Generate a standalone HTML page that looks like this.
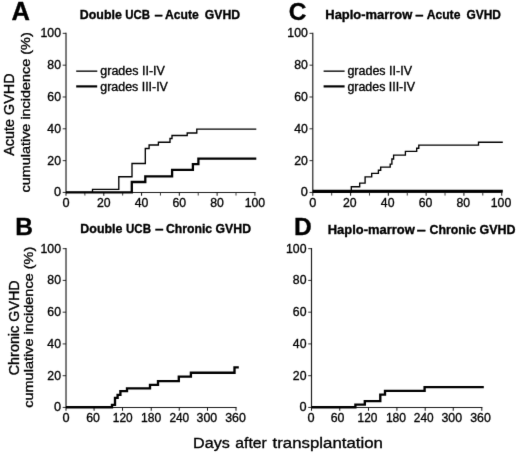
<!DOCTYPE html>
<html><head><meta charset="utf-8"><title>GVHD cumulative incidence</title>
<style>html,body{margin:0;padding:0;background:#fff;}svg{display:block;}text{font-family:"Liberation Sans",sans-serif;fill:#000;stroke:#000;stroke-width:0.34px;}</style>
</head><body>
<svg width="520" height="456" viewBox="0 0 520 456">
<rect width="520" height="456" fill="#fff"/>
<defs><filter id="bl" x="0" y="0" width="520" height="456" filterUnits="userSpaceOnUse"><feConvolveMatrix order="3" kernelMatrix="0.0056 0.0638 0.0056 0.0638 0.7225 0.0638 0.0056 0.0638 0.0056" divisor="1" edgeMode="none" preserveAlpha="false"/></filter></defs>
<g filter="url(#bl)">
<text x="11.6" y="19.5" font-size="25.5" text-anchor="start" font-weight="bold" >A</text>
<text x="15.2" y="235.4" font-size="24.5" text-anchor="start" font-weight="bold" >B</text>
<text x="288.8" y="20.0" font-size="24.5" text-anchor="start" font-weight="bold" >C</text>
<text x="294.0" y="235.2" font-size="24.5" text-anchor="start" font-weight="bold" >D</text>
<text x="79.8" y="18.6" font-size="12.5" text-anchor="start" font-weight="bold" textLength="42.0" lengthAdjust="spacingAndGlyphs" stroke="none">Double</text>
<text x="125.3" y="18.6" font-size="12.5" text-anchor="start" font-weight="bold" textLength="24.8" lengthAdjust="spacingAndGlyphs" stroke="none">UCB</text>
<text x="154.5" y="18.6" font-size="12.5" text-anchor="start" font-weight="bold" textLength="8.2" lengthAdjust="spacingAndGlyphs" stroke="none">–</text>
<text x="165.0" y="18.6" font-size="12.5" text-anchor="start" font-weight="bold" textLength="33.7" lengthAdjust="spacingAndGlyphs" stroke="none">Acute</text>
<text x="204.8" y="18.6" font-size="12.5" text-anchor="start" font-weight="bold" textLength="35.4" lengthAdjust="spacingAndGlyphs" stroke="none">GVHD</text>
<text x="80.3" y="233.2" font-size="12.5" text-anchor="start" font-weight="bold" textLength="42.2" lengthAdjust="spacingAndGlyphs" stroke="none">Double</text>
<text x="126.0" y="233.2" font-size="12.5" text-anchor="start" font-weight="bold" textLength="25.0" lengthAdjust="spacingAndGlyphs" stroke="none">UCB</text>
<text x="155.1" y="233.2" font-size="12.5" text-anchor="start" font-weight="bold" textLength="8.5" lengthAdjust="spacingAndGlyphs" stroke="none">–</text>
<text x="166.0" y="233.2" font-size="12.5" text-anchor="start" font-weight="bold" textLength="46.1" lengthAdjust="spacingAndGlyphs" stroke="none">Chronic</text>
<text x="215.6" y="233.2" font-size="12.5" text-anchor="start" font-weight="bold" textLength="35.4" lengthAdjust="spacingAndGlyphs" stroke="none">GVHD</text>
<text x="325.3" y="19.1" font-size="12.5" text-anchor="start" font-weight="bold" textLength="87.0" lengthAdjust="spacingAndGlyphs" stroke="none">Haplo-marrow</text>
<text x="415.2" y="19.1" font-size="12.5" text-anchor="start" font-weight="bold" textLength="8.2" lengthAdjust="spacingAndGlyphs" stroke="none">–</text>
<text x="426.7" y="19.1" font-size="12.5" text-anchor="start" font-weight="bold" textLength="33.7" lengthAdjust="spacingAndGlyphs" stroke="none">Acute</text>
<text x="466.5" y="19.1" font-size="12.5" text-anchor="start" font-weight="bold" textLength="34.5" lengthAdjust="spacingAndGlyphs" stroke="none">GVHD</text>
<text x="327.75" y="234.2" font-size="12.5" text-anchor="start" font-weight="bold" textLength="86.95" lengthAdjust="spacingAndGlyphs" stroke="none">Haplo-marrow</text>
<text x="416.8" y="234.2" font-size="12.5" text-anchor="start" font-weight="bold" textLength="9.0" lengthAdjust="spacingAndGlyphs" stroke="none">–</text>
<text x="429.6" y="234.2" font-size="12.5" text-anchor="start" font-weight="bold" textLength="46.6" lengthAdjust="spacingAndGlyphs" stroke="none">Chronic</text>
<text x="479.6" y="234.2" font-size="12.5" text-anchor="start" font-weight="bold" textLength="36.0" lengthAdjust="spacingAndGlyphs" stroke="none">GVHD</text>
<path d="M66 32.75 V193.04999999999998" stroke="#1a1a1a" stroke-width="1.15" fill="none"/>
<path d="M65.4 192.45 H255.5" stroke="#1a1a1a" stroke-width="1.15" fill="none"/>
<path d="M62.7 192.45 H66" stroke="#1a1a1a" stroke-width="0.9" fill="none"/>
<text x="61.0" y="196.45" font-size="12.7" text-anchor="end" >0</text>
<path d="M62.7 160.63 H66" stroke="#1a1a1a" stroke-width="0.9" fill="none"/>
<text x="61.0" y="164.63" font-size="12.7" text-anchor="end" textLength="13.63" lengthAdjust="spacingAndGlyphs" >20</text>
<path d="M62.7 128.81 H66" stroke="#1a1a1a" stroke-width="0.9" fill="none"/>
<text x="61.0" y="132.81" font-size="12.7" text-anchor="end" textLength="13.63" lengthAdjust="spacingAndGlyphs" >40</text>
<path d="M62.7 96.99 H66" stroke="#1a1a1a" stroke-width="0.9" fill="none"/>
<text x="61.0" y="100.99" font-size="12.7" text-anchor="end" textLength="13.63" lengthAdjust="spacingAndGlyphs" >60</text>
<path d="M62.7 65.17 H66" stroke="#1a1a1a" stroke-width="0.9" fill="none"/>
<text x="61.0" y="69.17" font-size="12.7" text-anchor="end" textLength="13.63" lengthAdjust="spacingAndGlyphs" >80</text>
<path d="M62.7 33.35 H66" stroke="#1a1a1a" stroke-width="0.9" fill="none"/>
<text x="61.0" y="37.35" font-size="12.7" text-anchor="end" textLength="20.44" lengthAdjust="spacingAndGlyphs" >100</text>
<path d="M66.00 192.45 V195.75" stroke="#1a1a1a" stroke-width="1.05" fill="none"/>
<path d="M103.78 192.45 V195.75" stroke="#1a1a1a" stroke-width="1.05" fill="none"/>
<path d="M141.56 192.45 V195.75" stroke="#1a1a1a" stroke-width="1.05" fill="none"/>
<path d="M179.34 192.45 V195.75" stroke="#1a1a1a" stroke-width="1.05" fill="none"/>
<path d="M217.12 192.45 V195.75" stroke="#1a1a1a" stroke-width="1.05" fill="none"/>
<path d="M254.90 192.45 V195.75" stroke="#1a1a1a" stroke-width="1.05" fill="none"/>
<path d="M84.89 192.45 V195.54999999999998" stroke="#333" stroke-width="0.95" fill="none"/>
<path d="M122.67 192.45 V195.54999999999998" stroke="#333" stroke-width="0.95" fill="none"/>
<path d="M160.45 192.45 V195.54999999999998" stroke="#333" stroke-width="0.95" fill="none"/>
<path d="M198.23 192.45 V195.54999999999998" stroke="#333" stroke-width="0.95" fill="none"/>
<path d="M236.01 192.45 V195.54999999999998" stroke="#333" stroke-width="0.95" fill="none"/>
<text x="66.0" y="207.15" font-size="12.7" text-anchor="middle" >0</text>
<text x="103.78" y="207.15" font-size="12.7" text-anchor="middle" textLength="13.63" lengthAdjust="spacingAndGlyphs" >20</text>
<text x="141.56" y="207.15" font-size="12.7" text-anchor="middle" textLength="13.63" lengthAdjust="spacingAndGlyphs" >40</text>
<text x="179.34" y="207.15" font-size="12.7" text-anchor="middle" textLength="13.63" lengthAdjust="spacingAndGlyphs" >60</text>
<text x="217.12" y="207.15" font-size="12.7" text-anchor="middle" textLength="13.63" lengthAdjust="spacingAndGlyphs" >80</text>
<text x="254.9" y="207.15" font-size="12.7" text-anchor="middle" textLength="20.44" lengthAdjust="spacingAndGlyphs" >100</text>
<path d="M66 192.3 H92.5 V189.3 H118.8 V176.7 H132 V163.5 H145.3 V148.5 H149.1 V145.0 H158.4 V142.2 H170 V138.5 H172 V135.5 H187.2 V133.0 H196.8 V129.1 H256.3" fill="none" stroke="#000" stroke-width="1.35" stroke-linejoin="miter"/>
<path d="M66 192.4 H131.8 V182.0 H145.3 V176.3 H172.1 V169.8 H192.9 V164.1 H198.4 V158.7 H256.3" fill="none" stroke="#000" stroke-width="2.3" stroke-linejoin="miter"/>
<path d="M76.2 71.15 H97.3" stroke="#000" stroke-width="1.35"/>
<path d="M76.2 86.4 H97.2" stroke="#000" stroke-width="2.2"/>
<text x="100.3" y="75.1" font-size="12" text-anchor="start" textLength="64.6" lengthAdjust="spacingAndGlyphs" >grades II-IV</text>
<text x="100.3" y="90.6" font-size="12" text-anchor="start" textLength="67.6" lengthAdjust="spacingAndGlyphs" >grades III-IV</text>
<path d="M312.8 32.75 V193.04999999999998" stroke="#1a1a1a" stroke-width="1.15" fill="none"/>
<path d="M312.2 192.45 H502.5" stroke="#1a1a1a" stroke-width="1.15" fill="none"/>
<path d="M309.5 192.45 H312.8" stroke="#1a1a1a" stroke-width="0.9" fill="none"/>
<text x="307.8" y="196.45" font-size="12.7" text-anchor="end" >0</text>
<path d="M309.5 160.63 H312.8" stroke="#1a1a1a" stroke-width="0.9" fill="none"/>
<text x="307.8" y="164.63" font-size="12.7" text-anchor="end" textLength="13.63" lengthAdjust="spacingAndGlyphs" >20</text>
<path d="M309.5 128.81 H312.8" stroke="#1a1a1a" stroke-width="0.9" fill="none"/>
<text x="307.8" y="132.81" font-size="12.7" text-anchor="end" textLength="13.63" lengthAdjust="spacingAndGlyphs" >40</text>
<path d="M309.5 96.99 H312.8" stroke="#1a1a1a" stroke-width="0.9" fill="none"/>
<text x="307.8" y="100.99" font-size="12.7" text-anchor="end" textLength="13.63" lengthAdjust="spacingAndGlyphs" >60</text>
<path d="M309.5 65.17 H312.8" stroke="#1a1a1a" stroke-width="0.9" fill="none"/>
<text x="307.8" y="69.17" font-size="12.7" text-anchor="end" textLength="13.63" lengthAdjust="spacingAndGlyphs" >80</text>
<path d="M309.5 33.35 H312.8" stroke="#1a1a1a" stroke-width="0.9" fill="none"/>
<text x="307.8" y="37.35" font-size="12.7" text-anchor="end" textLength="20.44" lengthAdjust="spacingAndGlyphs" >100</text>
<path d="M312.80 192.45 V195.75" stroke="#1a1a1a" stroke-width="1.05" fill="none"/>
<path d="M350.58 192.45 V195.75" stroke="#1a1a1a" stroke-width="1.05" fill="none"/>
<path d="M388.36 192.45 V195.75" stroke="#1a1a1a" stroke-width="1.05" fill="none"/>
<path d="M426.14 192.45 V195.75" stroke="#1a1a1a" stroke-width="1.05" fill="none"/>
<path d="M463.92 192.45 V195.75" stroke="#1a1a1a" stroke-width="1.05" fill="none"/>
<path d="M501.70 192.45 V195.75" stroke="#1a1a1a" stroke-width="1.05" fill="none"/>
<path d="M331.69 192.45 V195.54999999999998" stroke="#333" stroke-width="0.95" fill="none"/>
<path d="M369.47 192.45 V195.54999999999998" stroke="#333" stroke-width="0.95" fill="none"/>
<path d="M407.25 192.45 V195.54999999999998" stroke="#333" stroke-width="0.95" fill="none"/>
<path d="M445.03 192.45 V195.54999999999998" stroke="#333" stroke-width="0.95" fill="none"/>
<path d="M482.81 192.45 V195.54999999999998" stroke="#333" stroke-width="0.95" fill="none"/>
<text x="312.7" y="207.15" font-size="12.7" text-anchor="middle" >0</text>
<text x="349.88" y="207.15" font-size="12.7" text-anchor="middle" textLength="13.63" lengthAdjust="spacingAndGlyphs" >20</text>
<text x="387.66" y="207.15" font-size="12.7" text-anchor="middle" textLength="13.63" lengthAdjust="spacingAndGlyphs" >40</text>
<text x="425.44" y="207.15" font-size="12.7" text-anchor="middle" textLength="13.63" lengthAdjust="spacingAndGlyphs" >60</text>
<text x="463.22" y="207.15" font-size="12.7" text-anchor="middle" textLength="13.63" lengthAdjust="spacingAndGlyphs" >80</text>
<text x="501.0" y="207.15" font-size="12.7" text-anchor="middle" textLength="20.44" lengthAdjust="spacingAndGlyphs" >100</text>
<path d="M312.8 192 H351.3 V186.7 H359.7 V183.1 H365.1 V176.8 H371.7 V173.3 H378.4 V170.2 H380.7 V167.1 H390.2 V164.1 H391.9 V159.0 H393.6 V155.1 H405.4 V151.4 H416.7 V148.2 H418.8 V145.1 H478.5 V142.2 H502.8" fill="none" stroke="#000" stroke-width="1.35" stroke-linejoin="miter"/>
<path d="M312.8 191.1 H502.8" fill="none" stroke="#000" stroke-width="2.5" stroke-linejoin="miter"/>
<path d="M323.6 71.15 H344.6" stroke="#000" stroke-width="1.35"/>
<path d="M323.6 86.4 H344.6" stroke="#000" stroke-width="2.2"/>
<text x="347.4" y="75.1" font-size="12" text-anchor="start" textLength="64.6" lengthAdjust="spacingAndGlyphs" >grades II-IV</text>
<text x="347.4" y="90.6" font-size="12" text-anchor="start" textLength="67.6" lengthAdjust="spacingAndGlyphs" >grades III-IV</text>
<path d="M66 248.05 V408.05" stroke="#1a1a1a" stroke-width="1.15" fill="none"/>
<path d="M65.4 407.45 H236.6" stroke="#1a1a1a" stroke-width="1.15" fill="none"/>
<path d="M62.7 407.45 H66" stroke="#1a1a1a" stroke-width="0.9" fill="none"/>
<text x="61.0" y="411.45" font-size="12.7" text-anchor="end" >0</text>
<path d="M62.7 375.69 H66" stroke="#1a1a1a" stroke-width="0.9" fill="none"/>
<text x="61.0" y="379.69" font-size="12.7" text-anchor="end" textLength="13.63" lengthAdjust="spacingAndGlyphs" >20</text>
<path d="M62.7 343.93 H66" stroke="#1a1a1a" stroke-width="0.9" fill="none"/>
<text x="61.0" y="347.93" font-size="12.7" text-anchor="end" textLength="13.63" lengthAdjust="spacingAndGlyphs" >40</text>
<path d="M62.7 312.17 H66" stroke="#1a1a1a" stroke-width="0.9" fill="none"/>
<text x="61.0" y="316.17" font-size="12.7" text-anchor="end" textLength="13.63" lengthAdjust="spacingAndGlyphs" >60</text>
<path d="M62.7 280.41 H66" stroke="#1a1a1a" stroke-width="0.9" fill="none"/>
<text x="61.0" y="284.41" font-size="12.7" text-anchor="end" textLength="13.63" lengthAdjust="spacingAndGlyphs" >80</text>
<path d="M62.7 248.65 H66" stroke="#1a1a1a" stroke-width="0.9" fill="none"/>
<text x="61.0" y="252.65" font-size="12.7" text-anchor="end" textLength="20.44" lengthAdjust="spacingAndGlyphs" >100</text>
<path d="M66.00 407.45 V410.75" stroke="#1a1a1a" stroke-width="1.05" fill="none"/>
<path d="M94.10 407.45 V410.75" stroke="#1a1a1a" stroke-width="1.05" fill="none"/>
<path d="M122.50 407.45 V410.75" stroke="#1a1a1a" stroke-width="1.05" fill="none"/>
<path d="M151.25 407.45 V410.75" stroke="#1a1a1a" stroke-width="1.05" fill="none"/>
<path d="M179.25 407.45 V410.75" stroke="#1a1a1a" stroke-width="1.05" fill="none"/>
<path d="M207.50 407.45 V410.75" stroke="#1a1a1a" stroke-width="1.05" fill="none"/>
<path d="M236.00 407.45 V410.75" stroke="#1a1a1a" stroke-width="1.05" fill="none"/>
<text x="66" y="422.15" font-size="12.7" text-anchor="middle" >0</text>
<text x="93" y="422.15" font-size="12.7" text-anchor="middle" textLength="13.7" lengthAdjust="spacingAndGlyphs" >60</text>
<text x="122.7" y="422.15" font-size="12.7" text-anchor="middle" textLength="19.8" lengthAdjust="spacingAndGlyphs" >120</text>
<text x="151.2" y="422.15" font-size="12.7" text-anchor="middle" textLength="20.2" lengthAdjust="spacingAndGlyphs" >180</text>
<text x="179.3" y="422.15" font-size="12.7" text-anchor="middle" textLength="19.8" lengthAdjust="spacingAndGlyphs" >240</text>
<text x="206.9" y="422.15" font-size="12.7" text-anchor="middle" textLength="20.6" lengthAdjust="spacingAndGlyphs" >300</text>
<text x="235.5" y="422.15" font-size="12.7" text-anchor="middle" textLength="20.6" lengthAdjust="spacingAndGlyphs" >360</text>
<path d="M66 407.2 H112.0 V404.8 H115.0 V397.8 H117.6 V394.8 H120.4 V391.1 H127 V388.3 H150 V384.8 H158 V381.1 H178.8 V376.6 H190.9 V372.7 H234.5 V367.4 H238.8" fill="none" stroke="#000" stroke-width="2.35" stroke-linejoin="miter"/>
<path d="M311.5 248.05 V408.05" stroke="#1a1a1a" stroke-width="1.15" fill="none"/>
<path d="M310.9 407.45 H482.40000000000003" stroke="#1a1a1a" stroke-width="1.15" fill="none"/>
<path d="M308.2 407.45 H311.5" stroke="#1a1a1a" stroke-width="0.9" fill="none"/>
<text x="306.5" y="411.45" font-size="12.7" text-anchor="end" >0</text>
<path d="M308.2 375.69 H311.5" stroke="#1a1a1a" stroke-width="0.9" fill="none"/>
<text x="306.5" y="379.69" font-size="12.7" text-anchor="end" textLength="13.63" lengthAdjust="spacingAndGlyphs" >20</text>
<path d="M308.2 343.93 H311.5" stroke="#1a1a1a" stroke-width="0.9" fill="none"/>
<text x="306.5" y="347.93" font-size="12.7" text-anchor="end" textLength="13.63" lengthAdjust="spacingAndGlyphs" >40</text>
<path d="M308.2 312.17 H311.5" stroke="#1a1a1a" stroke-width="0.9" fill="none"/>
<text x="306.5" y="316.17" font-size="12.7" text-anchor="end" textLength="13.63" lengthAdjust="spacingAndGlyphs" >60</text>
<path d="M308.2 280.41 H311.5" stroke="#1a1a1a" stroke-width="0.9" fill="none"/>
<text x="306.5" y="284.41" font-size="12.7" text-anchor="end" textLength="13.63" lengthAdjust="spacingAndGlyphs" >80</text>
<path d="M308.2 248.65 H311.5" stroke="#1a1a1a" stroke-width="0.9" fill="none"/>
<text x="306.5" y="252.65" font-size="12.7" text-anchor="end" textLength="20.44" lengthAdjust="spacingAndGlyphs" >100</text>
<path d="M311.50 407.45 V410.75" stroke="#1a1a1a" stroke-width="1.05" fill="none"/>
<path d="M339.75 407.45 V410.75" stroke="#1a1a1a" stroke-width="1.05" fill="none"/>
<path d="M368.50 407.45 V410.75" stroke="#1a1a1a" stroke-width="1.05" fill="none"/>
<path d="M396.90 407.45 V410.75" stroke="#1a1a1a" stroke-width="1.05" fill="none"/>
<path d="M425.20 407.45 V410.75" stroke="#1a1a1a" stroke-width="1.05" fill="none"/>
<path d="M453.25 407.45 V410.75" stroke="#1a1a1a" stroke-width="1.05" fill="none"/>
<path d="M481.80 407.45 V410.75" stroke="#1a1a1a" stroke-width="1.05" fill="none"/>
<text x="311.1" y="422.15" font-size="12.7" text-anchor="middle" >0</text>
<text x="337.6" y="422.15" font-size="12.7" text-anchor="middle" textLength="13.7" lengthAdjust="spacingAndGlyphs" >60</text>
<text x="367.5" y="422.15" font-size="12.7" text-anchor="middle" textLength="19.8" lengthAdjust="spacingAndGlyphs" >120</text>
<text x="396.0" y="422.15" font-size="12.7" text-anchor="middle" textLength="20.2" lengthAdjust="spacingAndGlyphs" >180</text>
<text x="423.7" y="422.15" font-size="12.7" text-anchor="middle" textLength="19.8" lengthAdjust="spacingAndGlyphs" >240</text>
<text x="451.8" y="422.15" font-size="12.7" text-anchor="middle" textLength="20.6" lengthAdjust="spacingAndGlyphs" >300</text>
<text x="480.5" y="422.15" font-size="12.7" text-anchor="middle" textLength="20.6" lengthAdjust="spacingAndGlyphs" >360</text>
<path d="M311.5 407.2 H355.4 V404.6 H364.8 V401.1 H380.3 V394.6 H385 V390.9 H424.6 V387.1 H483.8" fill="none" stroke="#000" stroke-width="2.35" stroke-linejoin="miter"/>
<text x="193.1" y="447.9" font-size="15.4" text-anchor="start" textLength="36.8" lengthAdjust="spacingAndGlyphs" >Days</text>
<text x="235.3" y="447.9" font-size="15.4" text-anchor="start" textLength="31.5" lengthAdjust="spacingAndGlyphs" >after</text>
<text x="272.6" y="447.9" font-size="15.4" text-anchor="start" textLength="110.3" lengthAdjust="spacingAndGlyphs" >transplantation</text>
<text transform="translate(14.1 114.6) rotate(-90)" font-size="13.8" text-anchor="middle" textLength="82.3" lengthAdjust="spacingAndGlyphs">Acute GVHD</text>
<text transform="translate(29.9 112.4) rotate(-90)" font-size="13.4" text-anchor="middle" textLength="160.3" lengthAdjust="spacingAndGlyphs">cumulative incidence (%)</text>
<text transform="translate(18.6 327.75) rotate(-90)" font-size="13.8" text-anchor="middle" textLength="95.0" lengthAdjust="spacingAndGlyphs">Chronic GVHD</text>
<text transform="translate(33.2 327.25) rotate(-90)" font-size="13.4" text-anchor="middle" textLength="161.0" lengthAdjust="spacingAndGlyphs">cumulative incidence (%)</text>
</g>
</svg>
</body></html>
